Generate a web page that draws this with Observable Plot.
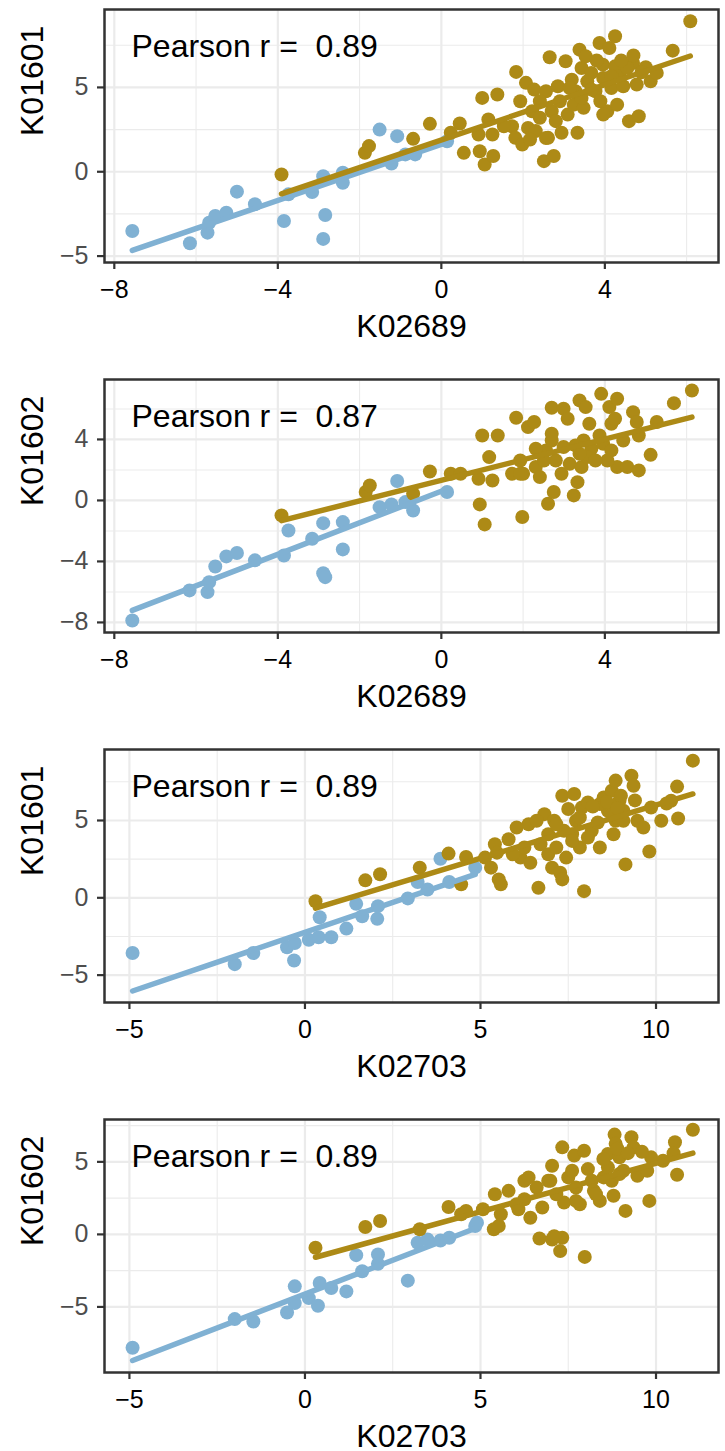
<!DOCTYPE html>
<html>
<head>
<meta charset="utf-8">
<script src="https://cdn.jsdelivr.net/npm/d3@7"></script>
<script src="https://cdn.jsdelivr.net/npm/@observablehq/plot@0.6"></script>
<style>
  body { margin: 0; background: #fff; }
  #chart svg { display: block; }
</style>
</head>
<body>
<div id="chart"></div>
<script>
// ---- Data (x, y) pairs ----
const p1Blue = [[-7.56,-3.51],[-6.15,-4.24],[-5.72,-3.61],[-5.68,-3.02],[-5.53,-2.62],[-5.26,-2.43],[-5.0,-1.18],[-4.56,-1.93],[-3.85,-2.92],[-3.74,-1.34],[-3.16,-1.20],[-2.89,-0.26],[-2.84,-2.56],[-2.89,-3.98],[-2.41,-0.65],[-2.41,-0.06],[-1.51,2.50],[-1.08,2.11],[-1.22,0.49],[-0.88,1.03],[-0.64,1.03],[0.14,1.81]];
const p1Gold = [[-3.91,-0.16],[-1.87,1.12],[-1.77,1.52],[-0.69,1.95],[-0.28,2.84],[0.23,2.31],[0.45,2.86],[0.55,1.12],[0.91,2.21],[0.94,1.22],[1.0,4.38],[1.25,2.21],[1.15,3.1],[1.06,0.43],[1.27,0.93],[1.37,4.58],[1.73,2.70],[1.81,2.01],[1.83,5.92],[1.93,4.18],[1.98,1.62],[2.07,5.27],[2.12,2.60],[2.22,3.59],[2.27,4.87],[2.31,2.41],[2.41,3.2],[2.51,0.63],[2.61,2.01],[2.75,0.93],[2.56,4.77],[2.65,6.79],[2.70,3.59],[2.85,5.07],[2.90,4.18],[2.94,2.31],[3.04,6.55],[3.09,3.39],[3.19,5.46],[3.24,3.98],[3.28,4.77],[3.33,2.31],[3.38,7.24],[3.43,6.15],[3.48,3.79],[3.53,6.85],[3.57,5.36],[3.67,5.86],[3.77,4.77],[3.87,7.63],[3.89,4.18],[3.95,6.35],[3.96,5.56],[4.06,3.59],[4.11,7.34],[4.16,4.97],[4.25,6.25],[4.25,8.03],[4.30,3.98],[4.35,5.66],[4.45,5.07],[4.59,3.0],[4.69,6.45],[4.78,5.17],[4.83,3.29],[5.12,5.36],[5.27,5.86],[5.66,7.18],[6.09,8.92],[4.55,6.15],[3.96,3.39],[2.17,1.91],[1.53,2.7],[3.43,4.38],[3.14,4.97],[2.41,4.18],[2.80,3.0],[2.56,2.0],[3.67,4.87],[4.16,5.66],[4.40,6.60],[4.70,6.90],[5.00,6.20],[3.80,6.60],[4.90,5.90]];

const p2Blue = [[-7.56,-7.87],[-6.16,-5.90],[-5.72,-6.01],[-5.68,-5.36],[-5.53,-4.33],[-5.26,-3.67],[-5.0,-3.45],[-4.56,-3.93],[-3.85,-3.61],[-3.74,-1.97],[-3.16,-2.51],[-2.89,-1.49],[-2.89,-4.77],[-2.84,-5.03],[-2.41,-1.42],[-2.41,-3.21],[-1.08,1.27],[-1.51,-0.44],[-1.22,-0.26],[-0.88,-0.11],[-0.69,-0.66],[0.14,0.55]];
const p2Gold = [[-3.91,-0.98],[-1.85,0.55],[-1.75,0.98],[-0.69,0.44],[-0.28,1.90],[0.23,1.75],[0.47,1.75],[0.91,1.42],[0.94,-0.26],[1.0,4.26],[1.06,-1.57],[1.17,2.84],[1.25,1.31],[1.38,4.26],[1.73,1.75],[1.83,5.42],[1.98,-1.09],[2.0,1.75],[2.12,4.81],[2.27,5.14],[1.93,2.62],[2.31,2.19],[2.41,1.53],[2.56,3.28],[2.61,-0.22],[2.70,3.93],[2.75,0.55],[2.70,6.08],[2.80,2.62],[2.94,1.75],[2.99,6.01],[3.09,5.36],[3.14,2.40],[3.24,0.33],[3.33,1.20],[3.38,6.56],[3.43,2.19],[3.48,3.93],[3.53,6.12],[3.62,5.03],[3.67,3.39],[3.87,4.26],[3.91,6.99],[3.96,3.72],[4.11,6.12],[4.16,5.03],[4.25,5.36],[4.30,6.67],[4.30,2.19],[4.06,2.62],[4.55,2.19],[4.69,5.79],[4.78,5.14],[4.83,4.26],[4.83,1.97],[5.12,2.99],[5.27,5.14],[5.69,6.38],[6.13,7.21],[4.45,3.93],[3.57,2.84],[3.28,3.61],[2.31,3.39],[1.93,1.75],[2.99,3.5],[3.77,2.62],[4.16,3.28],[2.70,4.37],[3.38,3.06],[2.51,2.62]];

const p3Blue = [[-4.91,-3.57],[-2.0,-4.29],[-1.47,-3.57],[-0.51,-3.20],[-0.29,-2.92],[-0.31,-4.05],[0.11,-2.71],[0.39,-2.55],[0.42,-1.26],[0.75,-2.55],[1.18,-1.99],[1.46,-0.39],[1.63,-1.19],[2.06,-1.36],[2.08,-0.54],[2.93,-0.04],[3.21,1.02],[3.49,0.54],[3.86,2.53],[4.11,1.02],[4.85,1.95]];
const p3Gold = [[0.30,-0.22],[1.72,1.13],[2.14,1.52],[3.27,1.95],[4.09,2.86],[4.45,0.87],[4.59,2.64],[5.13,2.60],[5.30,1.95],[5.41,3.46],[5.52,1.19],[5.58,0.87],[5.80,3.79],[6.14,2.60],[6.25,3.25],[6.42,2.27],[6.37,4.76],[6.65,0.65],[6.71,3.46],[6.82,5.41],[6.93,4.11],[7.04,1.95],[7.10,4.98],[7.27,1.62],[7.33,6.60],[7.33,1.19],[7.44,2.60],[7.50,5.74],[7.61,4.11],[7.67,6.71],[7.72,4.98],[7.83,3.25],[7.89,5.84],[7.95,0.43],[8.06,6.17],[8.17,4.33],[8.34,4.87],[8.40,3.25],[8.51,6.49],[8.63,5.63],[8.74,6.93],[8.79,4.11],[8.85,7.58],[8.85,4.98],[8.96,6.28],[9.07,5.63],[9.13,2.16],[9.30,7.90],[9.36,7.25],[9.47,4.98],[9.64,4.55],[9.81,2.99],[9.86,5.84],[10.15,4.98],[10.43,6.28],[10.60,7.19],[10.63,5.13],[11.05,8.87],[6.93,2.81],[6.03,4.55],[5.47,2.92],[7.38,4.33],[8.06,3.9],[6.6,4.98],[7.16,4.76],[7.61,3.68],[8.4,6.06],[8.74,5.41],[5.92,2.81],[9.07,4.98],[7.83,5.19],[7.16,3.25],[8.20,5.90],[8.60,6.20],[9.00,6.60],[8.90,5.80],[9.40,6.30],[10.30,6.10]];

const p4Blue = [[-4.91,-7.81],[-2.0,-5.84],[-1.47,-6.0],[-0.51,-5.38],[-0.29,-3.58],[-0.29,-4.73],[0.11,-4.39],[0.37,-4.92],[0.42,-3.35],[0.75,-3.70],[1.18,-3.93],[1.46,-1.43],[1.63,-2.54],[2.08,-1.39],[2.08,-2.03],[2.93,-3.19],[3.21,-0.58],[3.49,-0.35],[3.86,-0.42],[4.11,-0.23],[4.85,0.58],[4.90,0.81]];
const p4Gold = [[0.30,-0.92],[1.72,0.51],[2.14,0.92],[3.27,0.35],[4.09,1.89],[4.45,1.39],[4.59,1.62],[5.07,1.73],[5.38,0.35],[5.41,2.77],[5.52,0.58],[5.80,3.0],[6.08,1.73],[6.25,3.70],[6.42,1.15],[6.37,3.93],[6.68,-0.28],[6.76,1.85],[7.04,4.73],[6.99,3.70],[7.04,-0.35],[7.27,-1.15],[7.33,6.0],[7.33,-0.23],[7.38,2.19],[7.50,3.93],[7.67,5.43],[7.72,3.23],[7.83,2.08],[7.95,5.77],[7.97,-1.55],[8.06,4.50],[8.23,3.0],[8.40,2.31],[8.51,3.93],[8.63,5.54],[8.74,3.70],[8.79,2.66],[8.82,6.88],[8.85,6.24],[8.96,5.31],[9.07,4.39],[9.13,1.62],[9.30,6.70],[9.36,6.0],[9.47,4.04],[9.75,4.39],[9.81,2.31],[9.86,5.31],[10.20,5.08],[10.54,6.35],[10.60,4.11],[11.05,7.21],[6.6,3.23],[6.03,2.08],[7.16,2.77],[7.72,2.31],[8.17,3.70],[8.63,4.62],[5.58,1.39],[6.93,3.70],[8.29,2.77],[7.61,4.39],[8.96,4.16],[6.25,2.42],[7.1,-0.12],[8.90,5.90],[9.20,5.60],[8.50,5.20],[9.60,5.70],[10.50,5.60]];

const xLabels = ["K02689", "K02689", "K02703", "K02703"];
const yLabels = ["K01601", "K01602", "K01601", "K01602"];
const pearsonLabels = ["Pearson r =  0.89", "Pearson r =  0.87", "Pearson r =  0.89", "Pearson r =  0.89"];
const xTicksA = [-8, -4, 0, 4];
const xMinorA = [-6, -2, 2, 6];
const xTicksB = [-5, 0, 5, 10];
const xMinorB = [-2.5, 2.5, 7.5];
const yTicks1 = [-5, 0, 5];
const yMinor1 = [-2.5, 2.5, 7.5];
const yTicks2 = [-8, -4, 0, 4];
const yMinor2 = [-6, -2, 2, 6];

// ---- Panel config (scales/layout) ----
const panels = [
  {blue: p1Blue, gold: p1Gold, xDomain: [-8.24, 6.78], yDomain: [-5.38, 9.62], xTicks: xTicksA, xMinor: xMinorA, yTicks: yTicks1, yMinor: yMinor1},
  {blue: p2Blue, gold: p2Gold, xDomain: [-8.24, 6.78], yDomain: [-8.66, 7.93], xTicks: xTicksA, xMinor: xMinorA, yTicks: yTicks2, yMinor: yMinor2},
  {blue: p3Blue, gold: p3Gold, xDomain: [-5.71, 11.78], yDomain: [-6.77, 9.59], xTicks: xTicksB, xMinor: xMinorB, yTicks: yTicks1, yMinor: yMinor1},
  {blue: p4Blue, gold: p4Gold, xDomain: [-5.71, 11.78], yDomain: [-9.52, 7.92], xTicks: xTicksB, xMinor: xMinorB, yTicks: yTicks1, yMinor: yMinor1}
];
const heights = [370, 370, 370, 341];

const BLUE = "#80B1D3";
const GOLD = "#AD8A16";
const GRID = "#EBEBEB";
const FONT = "'Liberation Sans', Arial, Helvetica, sans-serif";
const fmt = d3.format("d");

const chart = document.getElementById("chart");
panels.forEach((p, i) => {
  const H = heights[i];
  const svg = Plot.plot({
    width: 725,
    height: H,
    marginLeft: 104,
    marginRight: 7,
    marginTop: 9,
    marginBottom: H - 9 - 253,
    style: {fontFamily: FONT, background: "#fff", overflow: "visible"},
    x: {domain: p.xDomain},
    y: {domain: p.yDomain},
    marks: [
      Plot.ruleX(p.xMinor, {stroke: GRID, strokeWidth: 1.1}),
      Plot.ruleY(p.yMinor.filter(v => v > p.yDomain[0] && v < p.yDomain[1]), {stroke: GRID, strokeWidth: 1.1}),
      Plot.ruleX(p.xTicks, {stroke: GRID, strokeWidth: 2.2}),
      Plot.ruleY(p.yTicks, {stroke: GRID, strokeWidth: 2.2}),
      Plot.axisX(p.xTicks, {tickSize: 7, tickPadding: 11, stroke: "#333", strokeWidth: 2.2, fill: "black", fontSize: 25, tickFormat: fmt, label: null}),
      Plot.axisY(p.yTicks, {tickSize: 7, tickPadding: 9, stroke: "#333", strokeWidth: 2.2, fill: "#4D4D4D", fontSize: 25, tickFormat: fmt, label: null}),
      Plot.dot(p.blue, {x: d => d[0], y: d => d[1], r: 7, fill: BLUE, stroke: null}),
      Plot.dot(p.gold, {x: d => d[0], y: d => d[1], r: 7, fill: GOLD, stroke: null}),
      Plot.linearRegressionY(p.blue, {x: d => d[0], y: d => d[1], stroke: BLUE, strokeWidth: 5.5, ci: 0}),
      Plot.linearRegressionY(p.gold, {x: d => d[0], y: d => d[1], stroke: GOLD, strokeWidth: 5.5, ci: 0}),
      Plot.text([pearsonLabels[i]], {text: d => d, frameAnchor: "top-left", textAnchor: "start", lineAnchor: "middle", dx: 27, dy: 37.5, fontSize: 32, fill: "black"}),
      Plot.text([xLabels[i]], {text: d => d, frameAnchor: "bottom", lineAnchor: "middle", dy: 64, fontSize: 32, fill: "black"}),
      Plot.text([yLabels[i]], {text: d => d, frameAnchor: "left", lineAnchor: "middle", rotate: -90, dx: -72, fontSize: 32, fill: "black"}),
      Plot.frame({stroke: "#333", strokeWidth: 2.5})
    ]
  });
  chart.appendChild(svg);
});
</script>
</body>
</html>
